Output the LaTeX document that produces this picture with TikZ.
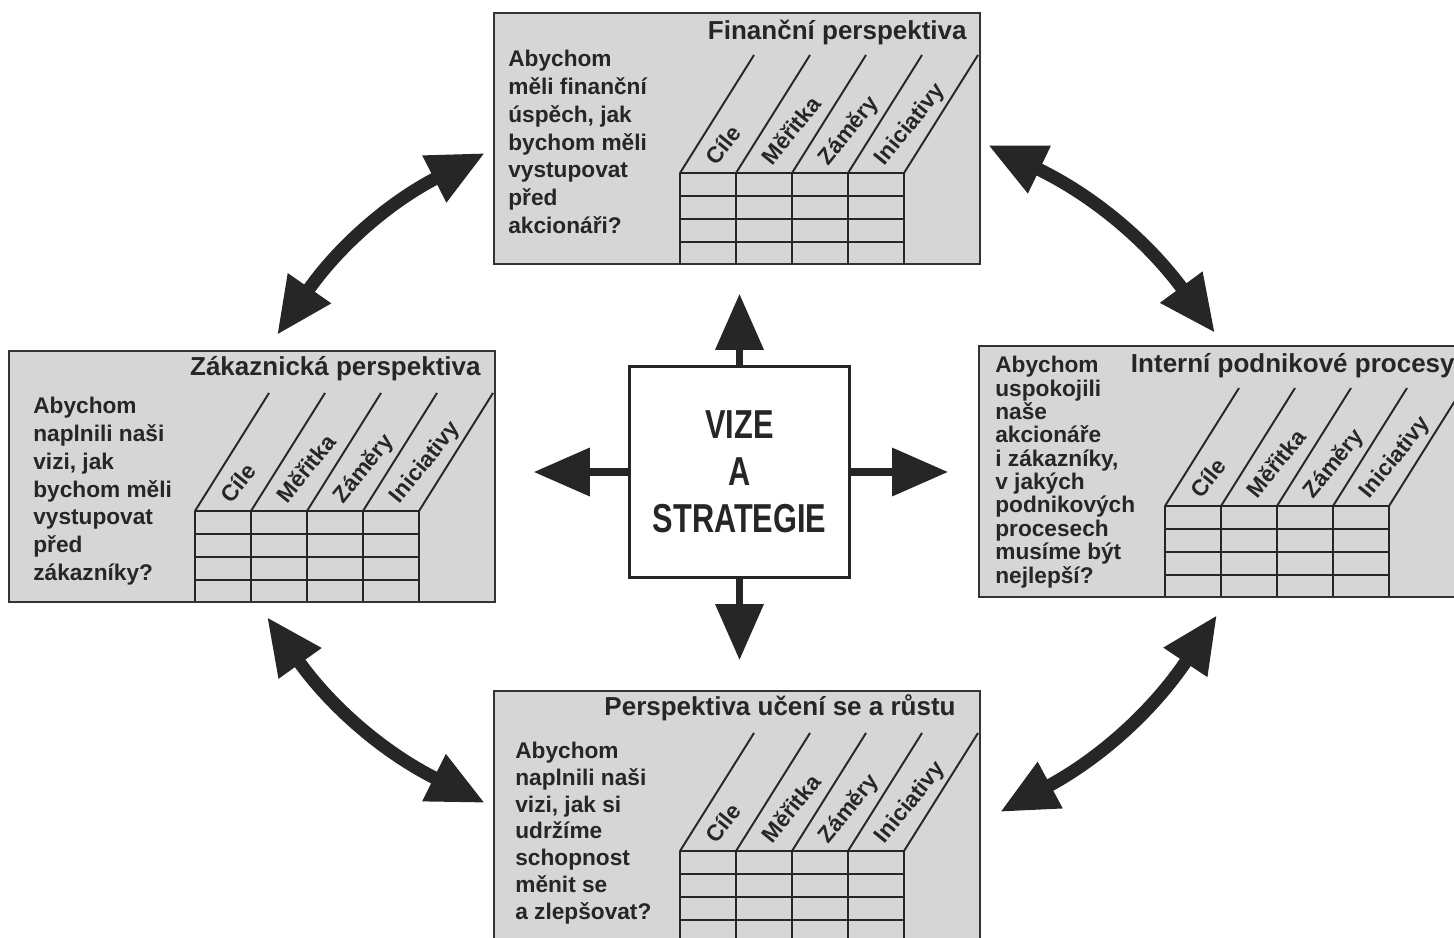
\documentclass[tikz,border=0pt]{standalone}
\usepackage{fontspec}
\setmainfont{Liberation Sans}
\newfontfamily\condfont[FakeStretch=0.76]{Liberation Sans}
\usetikzlibrary{arrows.meta}

\begin{document}
\begin{tikzpicture}[x=0.02cm,y=-0.02cm,
  persp/.style={draw=black!80,line width=1.1pt,fill=black!16,minimum width=9.72cm,minimum height=5.02cm,anchor=north west,inner sep=0pt},
  nadpis/.style={anchor=base east,inner sep=0pt,text=black!85,font=\bfseries\fontsize{14.8}{17}\selectfont},
  otazka/.style={anchor=north west,align=left,inner sep=0pt,text=black!85,font=\bfseries\fontsize{12.9}{15.8}\selectfont},
  sloupec/.style={anchor=base west,rotate=51,inner sep=0pt,text=black!85,font=\bfseries\fontsize{12.9}{14}\selectfont},
  sipka/.style={draw=black!85,line width=4pt,-{Triangle[length=1.12cm,width=0.94cm]}},
  oblouk/.style={draw=black!85,line width=7.4pt,{Triangle[length=1.14cm,width=0.98cm]}-{Triangle[length=1.14cm,width=0.98cm]}}]
%
\fill[white] (0,0) rectangle (1454,937);
\useasboundingbox (0,0) rectangle (1454,937);
%
\node[persp] (fin) at (493,12) {};
\node[persp] (zak) at (8,350) {};
\node[persp] (int) at (978,345) {};
\node[persp] (uce) at (493,690) {};
%
\foreach \b in {fin,zak,int,uce}{
  \begin{scope}[shift={(\b.north west)},draw=black!85,line width=1.1pt]
    \foreach \r in {0,23,46,69} \draw (187,161+\r) -- ++(224,0);
    \foreach \c in {0,56,112,168,224} \draw (187+\c,161) -- ++(0,90) (187+\c,161) -- ++(74,-118);
    \foreach \t [count=\c from 0] in {Cíle,Měřitka,Záměry,Iniciativy}
      \node[sloupec] at (223+56*\c,155) {\t};
  \end{scope}
}
%
\node[nadpis] (tfin) at (967,39) {Finanční perspektiva};
\node[nadpis] (tzak) at (481,375) {Zákaznická perspektiva};
\node[nadpis] (tint) at (1455,372) {Interní podnikové procesy};
\node[nadpis] (tuce) at (956,715) {Perspektiva učení se a růstu};
%
\node[otazka] (qfin) at (508,50) {Abychom\\měli finanční\\úspěch, jak\\bychom měli\\vystupovat\\před\\akcionáři?};
\node[otazka] (qzak) at (33,397) {Abychom\\naplnili naši\\vizi, jak\\bychom měli\\vystupovat\\před\\zákazníky?};
\node[otazka,font=\bfseries\fontsize{12.9}{13.3}\selectfont] (qint) at (995,356) {Abychom\\uspokojili\\naše\\akcionáře\\i zákazníky,\\v jakých\\podnikových\\procesech\\musíme být\\nejlepší?};
\node[otazka,font=\bfseries\fontsize{12.9}{15.2}\selectfont] (quce) at (515,742) {Abychom\\naplnili naši\\vizi, jak si\\udržíme\\schopnost\\měnit se\\a zlepšovat?};
%
\node[draw=black!85,line width=1.7pt,fill=white,minimum width=4.42cm,minimum height=4.24cm,align=center,text=black!85,font=\condfont\bfseries\fontsize{23}{26.7}\selectfont] (vize) at (739.5,472) {VIZE\\A\\STRATEGIE};
%
\draw[sipka,shorten >=0.58cm] (vize.north) -- (vize.north |- fin.south);
\draw[sipka,shorten >=0.6cm] (vize.east) -- (vize.east -| int.west);
\draw[sipka,shorten >=0.6cm] (vize.south) -- (vize.south |- uce.north);
\draw[sipka,shorten >=0.76cm] (vize.west) -- (vize.west -| zak.east);
%
\coordinate (zf1) at (277,335); \coordinate (zf2) at (485,153);
\coordinate (fi1) at (988,145); \coordinate (fi2) at (1215,333);
\coordinate (zu1) at (267,617); \coordinate (zu2) at (485,803);
\coordinate (iu1) at (1217,615); \coordinate (iu2) at (1000,812);
\draw[oblouk] (zf1) to[bend left=14] (zf2);
\draw[oblouk] (fi1) to[bend left=14] (fi2);
\draw[oblouk] (zu1) to[bend right=14] (zu2);
\draw[oblouk] (iu1) to[bend left=14] (iu2);
\end{tikzpicture}
\end{document}
